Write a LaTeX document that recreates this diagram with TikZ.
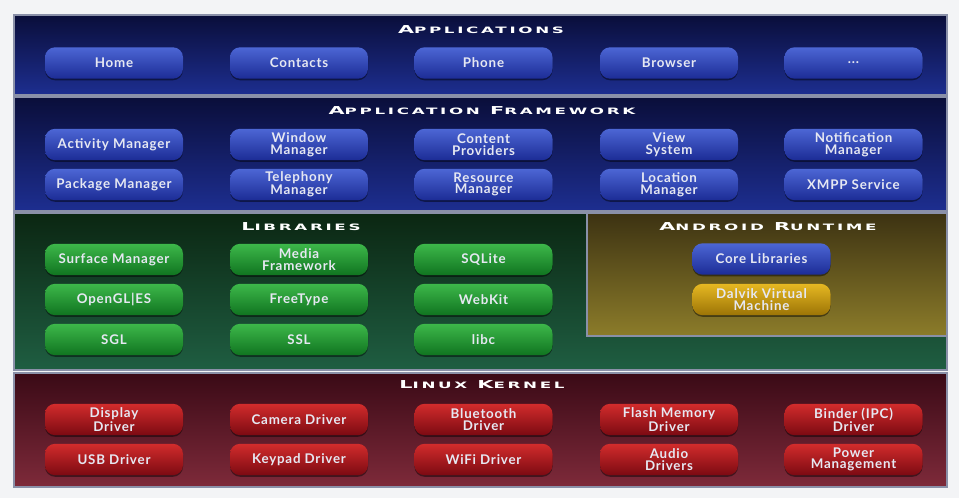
\documentclass[tikz,border=0pt]{standalone}
\usepackage{fontspec}
\usepackage{graphicx}
\setmainfont{Lato}
\newfontfamily\btnfont[LetterSpace=6]{Lato}
\newfontfamily\ttlfont[LetterSpace=16]{DejaVu Sans}
\usetikzlibrary{shadows}
\definecolor{bgc}{HTML}{F3F4F6}
\definecolor{bordc}{HTML}{8A90A8}
\definecolor{appTop}{HTML}{0A0E3A}
\definecolor{appBot}{HTML}{1D2E90}
\definecolor{libTop}{HTML}{0B2612}
\definecolor{libBot}{HTML}{1F5E42}
\definecolor{rtTop}{HTML}{3C3212}
\definecolor{rtBot}{HTML}{8C7C2A}
\definecolor{kerTop}{HTML}{3A0A16}
\definecolor{kerBot}{HTML}{7E2A3A}
\definecolor{bluT}{HTML}{4C66D4}
\definecolor{bluB}{HTML}{1C2C96}
\definecolor{grnT}{HTML}{3DB84A}
\definecolor{grnB}{HTML}{107420}
\definecolor{redT}{HTML}{D22C2C}
\definecolor{redB}{HTML}{7C0A12}
\definecolor{ylwT}{HTML}{E6B822}
\definecolor{ylwB}{HTML}{9C7406}
\definecolor{btntxt}{HTML}{E6E8F2}
\newcommand\ttl[2]{{\ttlfont\bfseries\fontsize{8.2}{8}\selectfont #1\fontsize{6.6}{8}\selectfont #2}}
\newcommand\ttlgap{\hspace{4pt}}
\newcommand\ttlx[1]{\scalebox{1.9}[1]{#1}}
\tikzset{
  panel/.style={draw=bordc, line width=1.1pt},
  btn/.style={rectangle, rounded corners=7.5pt, minimum width=103.5pt,
    minimum height=23.5pt, inner sep=0pt, align=center, text=btntxt,
    font=\btnfont\bfseries\fontsize{10}{8.8}\selectfont,
    drop shadow={shadow xshift=0pt, shadow yshift=-1.2pt, opacity=0.45, fill=black}},
  bluebtn/.style={btn, top color=bluT, bottom color=bluB},
  greenbtn/.style={btn, top color=grnT, bottom color=grnB},
  redbtn/.style={btn, top color=redT, bottom color=redB},
  yellowbtn/.style={btn, top color=ylwT, bottom color=ylwB},
  ttlnode/.style={text=white, inner sep=0pt}
}
\begin{document}
\begin{tikzpicture}[x=0.75pt,y=-0.75pt]
\useasboundingbox (0,0) rectangle (959,498);
\fill[bgc] (0,0) rectangle (959,498);
% panels
\draw[panel, top color=appTop, bottom color=appBot] (14,15) rectangle (947,95);
\draw[panel, top color=appTop, bottom color=appBot] (14,97) rectangle (947,211);
\draw[panel, top color=libTop, bottom color=libBot] (14,213) rectangle (947,370);
\draw[panel, top color=rtTop, bottom color=rtBot] (587,213) rectangle (947,336);
\draw[panel, top color=kerTop, bottom color=kerBot] (14,373) rectangle (947,487);
% titles
\node[ttlnode] (tapps) at (481,30) {\ttlx{\ttl{A}{PPLICATIONS}}};
\node[ttlnode] (tfw) at (482,111) {\ttlx{\ttl{A}{PPLICATION}\ttlgap\ttl{F}{RAMEWORK}}};
\node[ttlnode] (tlib) at (301,227) {\ttlx{\ttl{L}{IBRARIES}}};
\node[ttlnode] (trt) at (768,227) {\ttlx{\ttl{A}{NDROID}\ttlgap\ttl{R}{UNTIME}}};
\node[ttlnode] (tker) at (482,385) {\ttlx{\ttl{L}{INUX}\ttlgap\ttl{K}{ERNEL}}};
% applications
\node[bluebtn] (home) at (114,63) {Home};
\node[bluebtn] (contacts) at (299,63) {Contacts};
\node[bluebtn] (phone) at (483.5,63) {Phone};
\node[bluebtn] (browser) at (669,63) {Browser};
\node[bluebtn] (more) at (853.5,63) {...};
% framework
\node[bluebtn] (actmgr) at (114,144.5) {Activity Manager};
\node[bluebtn] (winmgr) at (299,144.5) {Window\\Manager};
\node[bluebtn] (contprov) at (483.5,144.5) {Content\\Providers};
\node[bluebtn] (viewsys) at (669,144.5) {View\\System};
\node[bluebtn] (notifmgr) at (853.5,144.5) {Notification\\Manager};
\node[bluebtn] (pkgmgr) at (114,184.5) {Package Manager};
\node[bluebtn] (telmgr) at (299,184.5) {Telephony\\Manager};
\node[bluebtn] (resmgr) at (483.5,184.5) {Resource\\Manager};
\node[bluebtn] (locmgr) at (669,184.5) {Location\\Manager};
\node[bluebtn] (xmpp) at (853.5,184.5) {XMPP Service};
% libraries
\node[greenbtn] (surface) at (114,259.5) {Surface Manager};
\node[greenbtn] (media) at (299,259.5) {Media\\Framework};
\node[greenbtn] (sqlite) at (483.5,259.5) {SQLite};
\node[greenbtn] (opengl) at (114,299.5) {OpenGL|ES};
\node[greenbtn] (freetype) at (299,299.5) {FreeType};
\node[greenbtn] (webkit) at (483.5,299.5) {WebKit};
\node[greenbtn] (sgl) at (114,339.5) {SGL};
\node[greenbtn] (ssl) at (299,339.5) {SSL};
\node[greenbtn] (libc) at (483.5,339.5) {libc};
% runtime
\node[bluebtn] (corelib) at (761.5,259) {Core Libraries};
\node[yellowbtn] (dalvik) at (761.5,299.5) {Dalvik Virtual\\Machine};
% kernel
\node[redbtn] (display) at (114,419.5) {Display\\Driver};
\node[redbtn] (camera) at (299,419.5) {Camera Driver};
\node[redbtn] (bluetooth) at (483.5,419.5) {Bluetooth\\Driver};
\node[redbtn] (flash) at (669,419.5) {Flash Memory\\Driver};
\node[redbtn] (binder) at (853.5,419.5) {Binder (IPC)\\Driver};
\node[redbtn] (usb) at (114,459.5) {USB Driver};
\node[redbtn] (keypad) at (299,459.5) {Keypad Driver};
\node[redbtn] (wifi) at (483.5,459.5) {WiFi Driver};
\node[redbtn] (audio) at (669,459.5) {Audio\\Drivers};
\node[redbtn] (power) at (853.5,459.5) {Power\\Management};
\end{tikzpicture}
\end{document}
